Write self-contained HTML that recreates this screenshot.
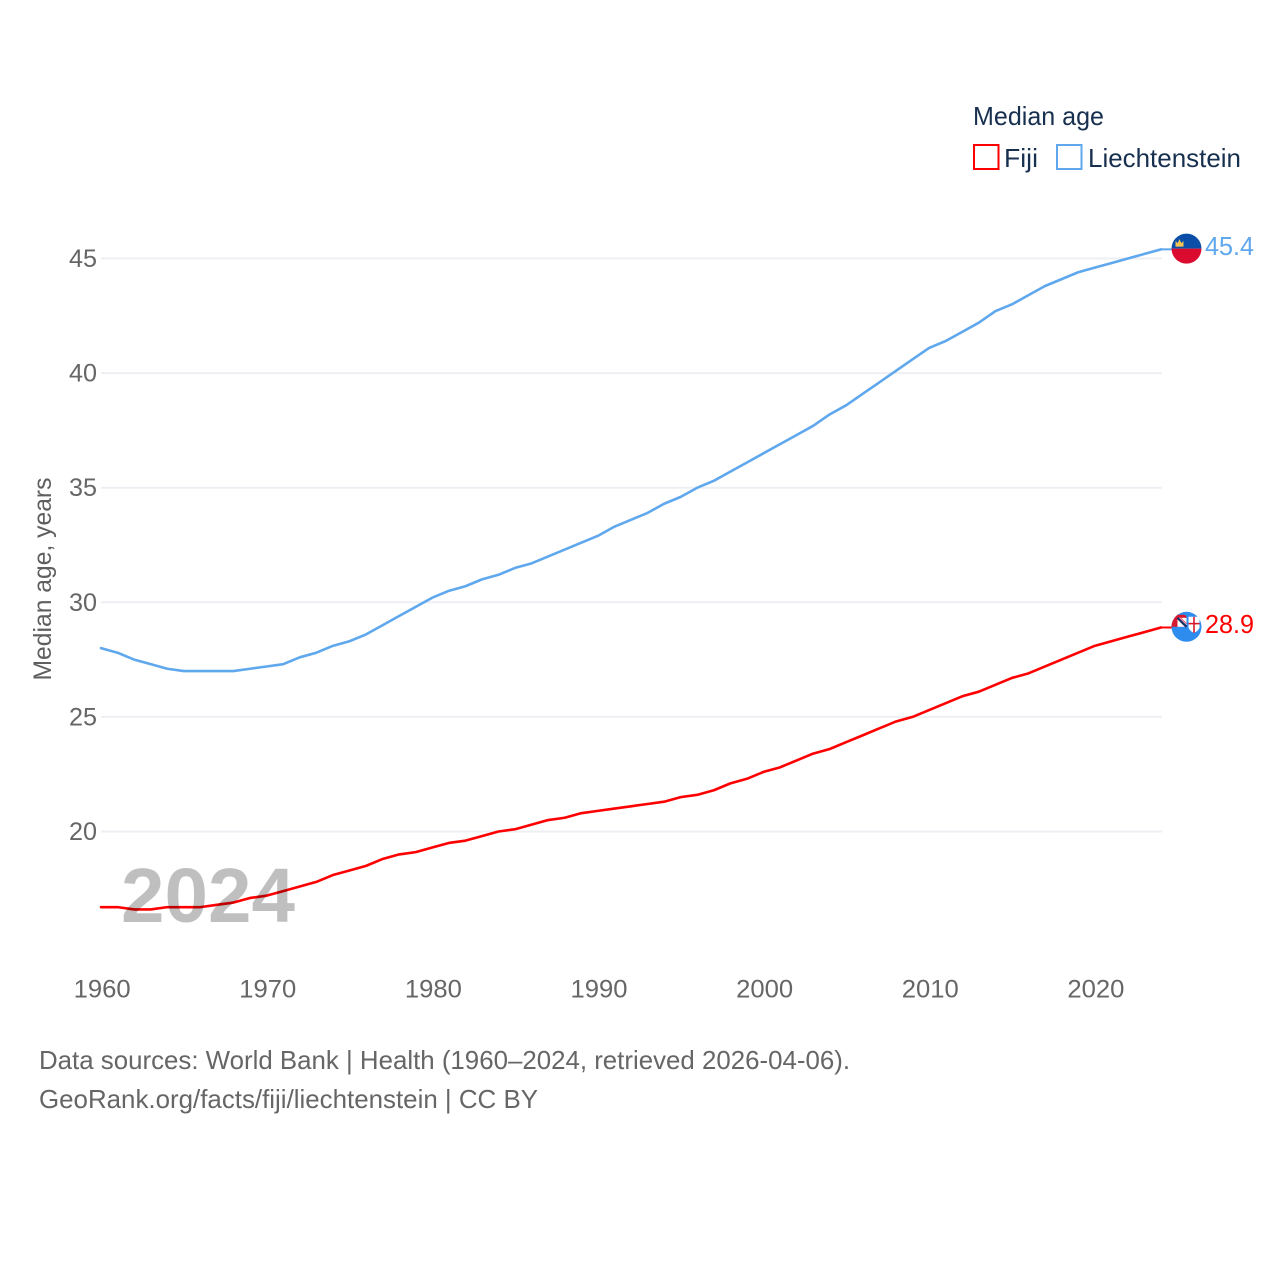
<!DOCTYPE html>
<html lang="en">
<head>
<meta charset="utf-8">
<title>Median age: Fiji and Liechtenstein</title>
<style>
html,body{margin:0;padding:0;background:#fff;width:1280px;height:1280px;overflow:hidden}
svg{display:block}
text{font-family:"Liberation Sans",sans-serif}
</style>
</head>
<body>
<svg id="chart" xmlns="http://www.w3.org/2000/svg" width="1280" height="1280" viewBox="0 0 1280 1280">
  <rect width="1280" height="1280" fill="#fff"/>
  <g id="grid"></g>
  <g id="yticks"></g>
  <g id="xticks"></g>
  <text transform="translate(51,579) rotate(-90)" text-anchor="middle" font-size="25" fill="#5f5f5f" textLength="203" lengthAdjust="spacingAndGlyphs">Median age, years</text>
  <g id="series"></g>
  <text x="121" y="922" font-size="77" font-weight="700" fill="#000" fill-opacity="0.25" textLength="174" lengthAdjust="spacingAndGlyphs">2024</text>

  <defs>
    <clipPath id="flag-clip"><circle cx="0" cy="0" r="15"/></clipPath>
  </defs>
  <g id="flag-li" clip-path="url(#flag-clip)">
    <rect x="-16" y="-16" width="32" height="16" fill="#0b4ea8"/>
    <rect x="-16" y="0" width="32" height="16" fill="#db0a2f"/>
    <path d="M-11,-2 L-11,-7.5 L-8.8,-5.5 L-7,-9.5 L-5.2,-5.5 L-3,-7.5 L-3,-2 Z" fill="#f3c74f"/>
  </g>
  <g id="flag-fj" clip-path="url(#flag-clip)">
    <rect x="-16" y="-16" width="32" height="32" fill="#2f8cef"/>
    <path d="M-16,0 L-16,-12 L-3,-12 Q0,-12 0,-9 L0,0 Z" fill="#d7182f"/>
    <rect x="-9" y="-9" width="9" height="9" fill="#fff"/>
    <path d="M-9,-9 L0,0" stroke="#1b2f66" stroke-width="2.4"/>
    <path d="M-6,-9 L0,-3" stroke="#e8485c" stroke-width="1"/>
    <path d="M2,-10 L13,-10 L13,1 Q11,5 7.5,6 Q4,5 2,1 Z" fill="#fff"/>
    <rect x="6.7" y="-10" width="1.6" height="16" fill="#d7182f"/>
    <rect x="2" y="-4" width="11" height="1.6" fill="#d7182f"/>
  </g>
  <g id="end-labels"></g>

  <g>
    <text x="973" y="125" font-size="26" fill="#18304f" textLength="131" lengthAdjust="spacingAndGlyphs">Median age</text>
    <g>
      <rect x="974" y="145" width="24.5" height="24" fill="#fff" stroke="#ff0000" stroke-width="2"/>
      <text x="1004" y="167" font-size="26" fill="#18304f" textLength="34" lengthAdjust="spacingAndGlyphs">Fiji</text>
    </g>
    <g>
      <rect x="1057" y="145" width="24.5" height="24" fill="#fff" stroke="#5fa8ee" stroke-width="2"/>
      <text x="1088" y="167" font-size="26" fill="#18304f" textLength="153" lengthAdjust="spacingAndGlyphs">Liechtenstein</text>
    </g>
  </g>

  <text x="39" y="1069" font-size="26" fill="#666" textLength="811" lengthAdjust="spacingAndGlyphs">Data sources: World Bank | Health (1960–2024, retrieved 2026-04-06).</text>
  <text x="39" y="1108" font-size="26" fill="#666" textLength="499" lengthAdjust="spacingAndGlyphs">GeoRank.org/facts/fiji/liechtenstein | CC BY</text>
</svg>
<script>
const years = [1960,1961,1962,1963,1964,1965,1966,1967,1968,1969,1970,1971,1972,1973,1974,1975,1976,1977,1978,1979,1980,1981,1982,1983,1984,1985,1986,1987,1988,1989,1990,1991,1992,1993,1994,1995,1996,1997,1998,1999,2000,2001,2002,2003,2004,2005,2006,2007,2008,2009,2010,2011,2012,2013,2014,2015,2016,2017,2018,2019,2020,2021,2022,2023,2024];
const fijiValues = [16.7,16.7,16.6,16.6,16.7,16.7,16.7,16.8,16.9,17.1,17.2,17.4,17.6,17.8,18.1,18.3,18.5,18.8,19.0,19.1,19.3,19.5,19.6,19.8,20.0,20.1,20.3,20.5,20.6,20.8,20.9,21.0,21.1,21.2,21.3,21.5,21.6,21.8,22.1,22.3,22.6,22.8,23.1,23.4,23.6,23.9,24.2,24.5,24.8,25.0,25.3,25.6,25.9,26.1,26.4,26.7,26.9,27.2,27.5,27.8,28.1,28.3,28.5,28.7,28.9];
const liechtensteinValues = [28.0,27.8,27.5,27.3,27.1,27.0,27.0,27.0,27.0,27.1,27.2,27.3,27.6,27.8,28.1,28.3,28.6,29.0,29.4,29.8,30.2,30.5,30.7,31.0,31.2,31.5,31.7,32.0,32.3,32.6,32.9,33.3,33.6,33.9,34.3,34.6,35.0,35.3,35.7,36.1,36.5,36.9,37.3,37.7,38.2,38.6,39.1,39.6,40.1,40.6,41.1,41.4,41.8,42.2,42.7,43.0,43.4,43.8,44.1,44.4,44.6,44.8,45.0,45.2,45.4];
const yTickValues = [20,25,30,35,40,45];
const xTickValues = [1960,1970,1980,1990,2000,2010,2020];

const SVG_NS = 'http://www.w3.org/2000/svg';
function xScale(year){ return 101 + (year - 1960) * (1161 - 101) / 64; }
function yScale(age){ return 831.5 - (age - 20) * (831.5 - 258.5) / 25; }
function make(tag, attrs, parent){
  const el = document.createElementNS(SVG_NS, tag);
  for (const k in attrs) el.setAttribute(k, attrs[k]);
  parent.appendChild(el);
  return el;
}
const gridG = document.getElementById('grid');
const yG = document.getElementById('yticks');
const xG = document.getElementById('xticks');
const seriesG = document.getElementById('series');
const labelsG = document.getElementById('end-labels');

yTickValues.forEach(function(v){
  const line = make('line', {x1:101, x2:1162, y1:yScale(v), y2:yScale(v), stroke:'#edeff3', 'stroke-width':2}, gridG);
  
  
  const t = make('text', {x:97, y:yScale(v)+8.5, 'text-anchor':'end', 'font-size':25, fill:'#666', textLength:28, lengthAdjust:'spacingAndGlyphs'}, yG);
  t.textContent = v;
  
  
});
xTickValues.forEach(function(v){
  const t = make('text', {x:xScale(v)+1.2, y:997.5, 'text-anchor':'middle', 'font-size':25, fill:'#666', textLength:57, lengthAdjust:'spacingAndGlyphs'}, xG);
  t.textContent = v;
  
  
});
function drawSeries(values, color){
  const pts = values.map(function(v,i){ return xScale(years[i]).toFixed(2) + ',' + yScale(v).toFixed(2); }).join(' ');
  return make('polyline', {points:pts, fill:'none', stroke:color, 'stroke-width':2.6, 'stroke-linejoin':'round', 'stroke-linecap':'round'}, seriesG);
}
const fijiLine = drawSeries(fijiValues, '#ff0000');


const liLine = drawSeries(liechtensteinValues, '#5fa8ee');



function endMark(values, color, flagId){
  const last = values[values.length - 1];
  const y = yScale(last);
  const conn = make('line', {x1:1161, x2:1172, y1:y, y2:y, stroke:color, 'stroke-width':2}, seriesG);
  
  
  document.getElementById(flagId).setAttribute('transform', 'translate(1186.5,' + (y - 0.7).toFixed(2) + ')');
  const t = make('text', {x:1205, y:y+5.5, 'font-size':26, fill:color, textLength:49, lengthAdjust:'spacingAndGlyphs'}, labelsG);
  t.textContent = last.toFixed(1);
  
  
}
endMark(fijiValues, '#ff0000', 'flag-fj');
endMark(liechtensteinValues, '#5fa8ee', 'flag-li');
</script>
</body>
</html>
